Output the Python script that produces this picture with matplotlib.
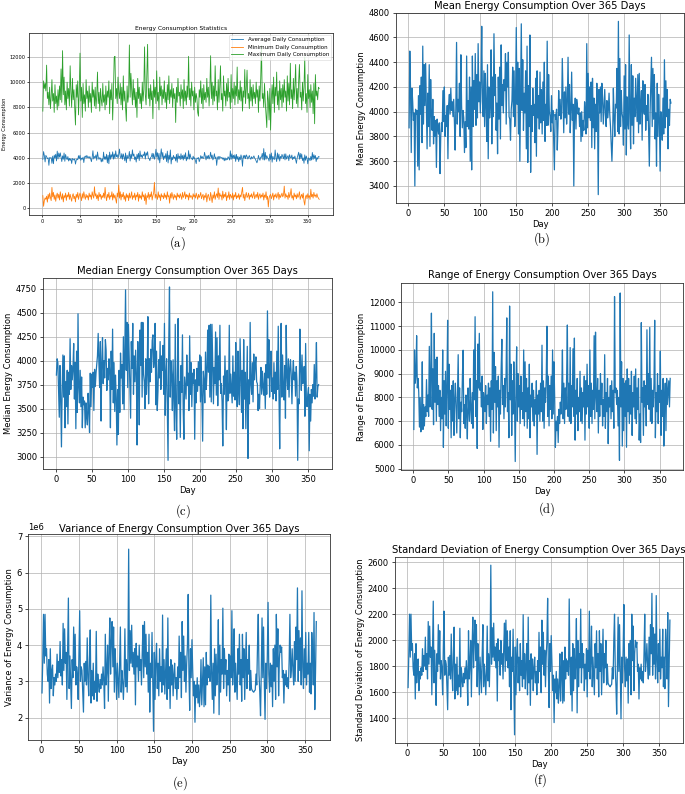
import numpy as np
import matplotlib
matplotlib.use("Agg")
from matplotlib import pyplot as plt
from matplotlib.ticker import MultipleLocator

plt.rcParams['mathtext.fontset'] = 'cm'

days = np.arange(1, 366)

# daily mean (also the "Average Daily Consumption" line of panel a)
mean_daily = [
    3870, 4490, 4180, 3670, 4190, 4080, 3930, 3990, 3400, 4020, 3980, 4010, 3560, 4130, 3530, 4210, 3980, 4280, 3750, 4530,
    3900, 4380, 4050, 4390, 4040, 3700, 4150, 3880, 4380, 3720, 4260, 3990, 3850, 4100, 3740, 3960, 3800, 3930, 3550, 3940,
    3870, 3820, 3910, 3500, 3800, 3910, 3840, 4170, 3920, 4200, 3800, 3970, 3880, 4050, 3620, 4060, 4140, 3980, 4190, 4010,
    4080, 3960, 4100, 3920, 3690, 4030, 4560, 3900, 4100, 4000, 4230, 3800, 4460, 4050, 3870, 4010, 3950, 3670, 3920, 3710,
    4450, 3880, 4090, 3860, 4280, 3600, 4200, 3530, 4450, 3880, 4250, 4020, 4470, 3890, 4300, 3950, 4550, 4080, 4240, 3990,
    4250, 4690, 4080, 3960, 4330, 3880, 4310, 4060, 3760, 4380, 3620, 4200, 3950, 4050, 4500, 3740, 4280, 3960, 4630, 4130,
    4300, 3850, 4070, 3660, 4280, 3940, 4360, 3780, 4540, 4050, 4220, 3990, 4260, 4170, 4470, 3900, 4400, 4200, 4480, 3960,
    3940, 3770, 4020, 4090, 4360, 3960, 4330, 3880, 4100, 4680, 4060, 4400, 3820, 4350, 3600, 4190, 4710, 4010, 4420, 3850,
    4150, 3990, 4330, 3700, 4530, 3590, 4210, 3880, 4620, 3510, 4050, 3840, 4190, 3970, 4060, 3750, 4270, 3640, 4330, 3950,
    4130, 3860, 4320, 3910, 4180, 3820, 4240, 3930, 4400, 3760, 4060, 3890, 4570, 3890, 4300, 4000, 3960, 3840, 4130, 3910,
    4010, 3760, 3530, 3980, 3940, 4020, 3690, 3880, 4170, 3970, 4100, 3940, 3990, 4430, 4130, 3830, 4160, 3950, 4200, 3900,
    4070, 4440, 3980, 4220, 3830, 4010, 4320, 3930, 4060, 3400, 3990, 4110, 3860, 4100, 4050, 3980, 4030, 3880, 3990, 3760,
    4000, 3800, 3930, 3850, 4080, 3980, 3820, 4550, 3870, 4310, 3950, 4200, 3930, 4240, 3710, 4270, 3870, 4110, 3700, 4060,
    3840, 4230, 3980, 3330, 4180, 3990, 4200, 3920, 4230, 4110, 3900, 4050, 4180, 3980, 3880, 4090, 3950, 4010, 4150, 3980,
    3880, 3750, 3600, 3800, 4190, 3950, 3800, 4060, 4030, 4350, 3840, 4730, 3820, 4430, 3880, 4170, 3990, 3950, 3730, 4290,
    3860, 4380, 3650, 4120, 3920, 3860, 4620, 3990, 3700, 4380, 3890, 4290, 3740, 4110, 3960, 4270, 4100, 3920, 4300, 3830,
    4310, 3900, 4050, 4170, 3770, 4250, 4030, 3980, 4220, 3850, 4050, 3930, 4140, 3860, 3560, 3990, 4200, 4440, 3880, 4350,
    3940, 4300, 3780, 3990, 3560, 4230, 3800, 4140, 3940, 3520, 4000, 3930, 3770, 4110, 3820, 4420, 3870, 4250, 3960, 4180,
    3700, 4020, 3890, 4100, 4070,
]

min_daily = [
    1000, 150, 600, 820, 700, 950, 480, 1100, 750, 1200, 850, 600, 1650, 900, 1250, 700, 1050, 550, 980, 1200,
    800, 1100, 650, 1300, 920, 700, 1150, 500, 1000, 850, 1200, 620, 1050, 900, 1250, 700, 1100, 800, 550, 1000,
    1150, 750, 950, 500, 1100, 850, 1250, 700, 1000, 1200, 900, 600, 1150, 800, 1300, 950, 700, 1100, 850, 1000,
    650, 1200, 900, 1050, 700, 1300, 1000, 800, 1700, 950, 1150, 750, 1050, 600, 1250, 900, 1100, 700, 1000, 850,
    1200, 800, 1650, 950, 600, 1100, 850, 1250, 700, 1000, 900, 1300, 650, 1150, 800, 1050, 700, 400, 1200, 900,
    1850, 800, 1300, 650, 1100, 900, 1250, 700, 1000, 550, 1150, 850, 1050, 600, 1200, 800, 950, 1300, 700, 1000,
    850, 1200, 650, 1050, 900, 1250, 550, 1100, 800, 1000, 700, 1300, 900, 1050, 600, 1150, 300, 1000, 850, 1250,
    700, 1100, 900, 1300, 650, 1000, 1200, 2050, 800, 1100, 950, 700, 1300, 850, 1050, 600, 1150, 900, 1000, 750,
    1200, 850, 1050, 700, 1300, 900, 1000, 400, 1150, 800, 1250, 950, 700, 1100, 850, 1000, 650, 1200, 900, 1050,
    800, 1150, 950, 700, 1250, 850, 1000, 1300, 750, 1100, 900, 1050, 650, 1200, 850, 1000, 950, 700, 1150, 900,
    1050, 800, 1200, 950, 700, 1100, 850, 1000, 1250, 750, 950, 1100, 650, 1000, 850, 1200, 500, 950, 1100, 800,
    600, 1250, 900, 450, 1050, 800, 1300, 700, 1000, 1150, 850, 1600, 700, 1200, 950, 1050, 650, 1350, 800, 1100,
    900, 1250, 600, 1000, 850, 1300, 700, 1100, 950, 800, 1200, 650, 1050, 900, 1250, 750, 1000, 850, 1150, 700,
    1050, 900, 1300, 1650, 800, 1100, 600, 1000, 1250, 850, 950, 1200, 700, 1050, 900, 1150, 800, 1000, 1300, 750,
    950, 1100, 850, 1250, 700, 1000, 1150, 800, 1050, 900, 1200, 650, 1050, 850, 1300, 700, 950, 100, 800, 1000,
    1100, 750, 950, 1200, 650, 1050, 900, 1150, 800, 1000, 1250, 700, 1100, 850, 1000, 1200, 900, 1050, 1750, 800,
    1150, 900, 1000, 700, 1250, 850, 1100, 1550, 800, 1000, 650, 1200, 900, 1050, 750, 1150, 850, 1000, 1300, 700,
    950, 1100, 800, 1200, 550, 250, 900, 1050, 750, 1150, 850, 1000, 700, 1500, 900, 1100, 800, 1250, 950, 1050,
    850, 1150, 900, 800, 700,
]

max_daily = [
    7700, 10100, 9500, 9900, 9300, 11350, 8700, 9200, 8200, 9600, 7900, 8800, 10200, 8500, 9100, 7600, 9800, 8300, 8900, 7800,
    9400, 8100, 9700, 8600, 11050, 8400, 12500, 9000, 10400, 8200, 9300, 7800, 10000, 8700, 9500, 8100, 11300, 9200, 8000, 10300,
    8600, 9400, 7900, 6600, 9800, 8800, 10100, 7400, 9200, 12300, 8500, 9600, 7200, 9900, 8300, 9000, 7700, 10200, 8700, 9300,
    8000, 9700, 8400, 9100, 7600, 10000, 8800, 9400, 8100, 9600, 7900, 8900, 10800, 8300, 9200, 7700, 9500, 8600, 8100, 9900,
    8400, 9000, 7800, 9700, 8200, 9300, 8800, 10100, 7500, 9400, 8600, 9900, 7000, 9100, 11950, 12050, 8700, 9500, 8300, 10400,
    9200, 8700, 9900, 8200, 9600, 7800, 10500, 8500, 9300, 8000, 6900, 9700, 8400, 9000, 12950, 8800, 10700, 9400, 8200, 10200,
    8600, 9500, 8000, 9200, 7200, 10300, 8700, 9600, 8300, 9100, 7900, 10000, 8500, 9400, 12800, 9000, 8200, 10600, 13000, 8700,
    9500, 8100, 9800, 8600, 9300, 7100, 10200, 8800, 9600, 8300, 10900, 8500, 9200, 7800, 10400, 8900, 9700, 8200, 9400, 8700,
    10100, 8400, 9200, 7900, 9800, 8600, 10500, 8300, 9400, 8800, 9900, 8000, 9500, 8700, 9100, 6800, 9600, 8400, 10300, 8900,
    9200, 8100, 9800, 8700, 9400, 7900, 10200, 8500, 9300, 8200, 9700, 8800, 12050, 8600, 9500, 8100, 10000, 8900, 9300, 7800,
    9600, 8400, 9100, 8700, 7600, 7300, 9400, 8800, 10100, 8300, 9500, 7900, 9800, 8600, 9200, 8400, 10300, 8800, 9600, 8100,
    9400, 12100, 8700, 10000, 8200, 9700, 8500, 11300, 8900, 9300, 7800, 10200, 8400, 9600, 11300, 8600, 9100, 7700, 10500, 8900,
    9300, 8100, 9900, 8500, 10300, 8800, 9200, 7900, 10600, 8400, 9500, 8700, 10000, 8200, 9700, 8900, 11200, 8300, 9400, 8600,
    10100, 8500, 9600, 7700, 9300, 8800, 11000, 8300, 9500, 10950, 8700, 9100, 7900, 10200, 8500, 9600, 8100, 9800, 8700, 9200,
    8300, 10000, 8800, 9400, 7600, 9700, 8500, 10300, 12900, 8700, 9100, 8000, 9900, 8400, 7400, 6400, 9300, 8600, 7000, 9500,
    6200, 8700, 9800, 8300, 10400, 7600, 9600, 8900, 10800, 8200, 9300, 7800, 10100, 8600, 9500, 8000, 9800, 8400, 10200, 8800,
    9300, 7700, 10500, 8500, 9900, 8200, 11500, 8700, 9400, 7900, 10300, 8600, 9700, 11400, 8300, 9500, 8000, 10100, 11400, 8800,
    9200, 7800, 10000, 8500, 9600, 12000, 8300, 9100, 7600, 10600, 8700, 9400, 8000, 9800, 8400, 9300, 7500, 9900, 6700, 10600,
    8900, 9300, 8600, 9600, 9500,
]

median_daily = [
    3850, 4020, 3980, 3700, 3410, 3950, 3600, 3100, 3720, 4060, 3620, 4050, 3300, 3780, 3520, 3900, 3340, 3880, 3650, 4230,
    3700, 3950, 3800, 3920, 4180, 3600, 3980, 3290, 4100, 3460, 4490, 3720, 3560, 3900, 3520, 3830, 3300, 3620, 3540, 3580,
    3300, 3560, 3420, 3330, 3660, 3480, 3250, 3870, 3520, 3860, 3720, 3880, 3480, 3910, 3730, 3870, 3960, 4050, 4285, 3970,
    3720, 4200, 3370, 3980, 4240, 3760, 4000, 3820, 4220, 4110, 3690, 3920, 3800, 4020, 3880, 3300, 4100, 3700, 4330, 3560,
    3980, 3470, 3850, 3620, 3120, 3700, 3230, 3900, 3460, 4080, 3820, 3960, 3550, 4250, 3490, 4110, 4740, 3900, 4400, 3720,
    4380, 4060, 3780, 3400, 4200, 3920, 4390, 3650, 4050, 3780, 4110, 3860, 3120, 4200, 3880, 3330, 4320, 3950, 4400, 3620,
    4400, 3860, 3780, 3500, 4020, 3650, 3870, 4460, 3550, 4020, 3780, 4120, 3880, 4210, 4270, 3930, 4020, 4390, 3540, 4100,
    3480, 3680, 4010, 3820, 4200, 3700, 4050, 3900, 4160, 3650, 4390, 3430, 3850, 4020, 3500, 2960, 4200, 4770, 3620, 4000,
    3850, 3480, 4010, 3600, 3270, 4380, 3520, 3180, 3900, 4440, 3550, 3780, 3200, 3950, 3670, 4270, 3500, 3180, 3830, 3710,
    3600, 4060, 3740, 3870, 3480, 4260, 3650, 3980, 3520, 3870, 3760, 3910, 3180, 3800, 3560, 3920, 3680, 3990, 3740, 4060,
    3570, 4040, 3620, 3160, 3890, 3780, 3560, 4090, 3700, 3860, 4320, 3880, 4370, 3620, 4380, 3570, 4380, 3960, 3550, 3930,
    3760, 4300, 3640, 4240, 3530, 4050, 3800, 4370, 3660, 3760, 3570, 3110, 3840, 3650, 4050, 3720, 3280, 3900, 3580, 3620,
    4370, 3660, 3860, 3700, 3560, 4050, 3630, 3880, 3590, 4190, 3760, 3520, 4100, 3680, 3540, 4230, 3850, 3460, 3900, 3290,
    4220, 3600, 3880, 3290, 3740, 4150, 2980, 3800, 3550, 4400, 3750, 3650, 3980, 3570, 4070, 3800, 3950, 4040, 3780, 3760,
    3480, 3650, 3500, 3760, 3930, 3650, 3890, 3720, 3640, 3870, 3500, 3960, 3650, 4520, 3820, 4220, 3620, 3910, 4100, 3680,
    3820, 3600, 3980, 3660, 3880, 3580, 4100, 3700, 4360, 3640, 3080, 3860, 4390, 3620, 4060, 3700, 3590, 3950, 3400, 4370,
    3850, 3700, 4020, 3620, 3920, 4010, 3850, 3550, 3870, 4000, 3800, 3880, 3630, 3940, 3780, 2960, 3600, 3550, 4330, 3930,
    3690, 4060, 3760, 3800, 3940, 3420, 4180, 3600, 3520, 3650, 3720, 3060, 3650, 3370, 3700, 3560, 3750, 3630, 3960, 3600,
    3850, 4190, 3620, 3730, 3750,
]

range_daily = [
    6650, 10000, 8600, 8900, 10600, 8400, 8800, 8200, 6750, 8000, 6550, 7300, 9500, 6650, 7700, 6800, 7600, 7200, 8750, 7400,
    8100, 7200, 10150, 7600, 8800, 11550, 7500, 9200, 6850, 10700, 7800, 9600, 7000, 9700, 7700, 8500, 7200, 8300, 6600, 8000,
    7100, 10000, 5900, 8700, 7300, 9100, 6800, 8400, 11250, 6700, 9400, 7500, 8300, 6300, 8500, 7000, 8700, 6400, 7900, 8600,
    7600, 6500, 8200, 9800, 7100, 8400, 6300, 7800, 7400, 8900, 9990, 6900, 7700, 6700, 8100, 7300, 6250, 8400, 7500, 7000,
    8800, 7500, 6900, 8200, 6700, 10000, 7900, 11400, 7200, 8700, 5850, 10250, 8400, 10700, 8300, 8600, 7600, 8900, 6650, 8200,
    7900, 7400, 8500, 6900, 8100, 7700, 8600, 7200, 8400, 6150, 8700, 7500, 12450, 6500, 9900, 7800, 9300, 6600, 8700, 7600,
    8900, 5900, 8300, 7300, 9200, 10450, 7700, 8500, 7100, 8800, 7600, 9000, 11350, 7400, 8200, 6300, 11850, 7900, 9400, 6400,
    8700, 7300, 9500, 7800, 5300, 8300, 10130, 7000, 9000, 7600, 8500, 6900, 8900, 7500, 8200, 7100, 10000, 6800, 9500, 7400,
    8800, 6700, 8400, 7100, 9400, 6300, 8100, 7600, 8600, 7000, 8300, 6800, 7900, 7300, 8700, 5600, 8100, 7300, 8300, 7000,
    8600, 7400, 10200, 7000, 8700, 6700, 8400, 7800, 8800, 11000, 7200, 8900, 6800, 8500, 7500, 8900, 7100, 10000, 7300, 9500,
    8000, 5900, 7000, 6600, 7200, 6100, 7500, 6900, 7800, 7300, 8200, 10000, 7100, 8600, 6900, 8400, 7500, 8900, 11050, 7200,
    8600, 7000, 10100, 6900, 8500, 7600, 10050, 7200, 10500, 6200, 8300, 7300, 8800, 6600, 8000, 7400, 9100, 7000, 8400, 6900,
    8200, 7600, 8900, 6200, 8700, 7300, 9400, 7600, 8500, 6700, 10000, 7200, 8600, 6900, 8300, 7500, 10600, 7100, 10750, 8000,
    7400, 8800, 6500, 8300, 7200, 9000, 7700, 8600, 6800, 7900, 7200, 9800, 6700, 8200, 7400, 8800, 6050, 8000, 7600, 8500,
    7100, 8700, 7400, 8300, 6700, 12250, 8200, 8400, 7700, 8300, 6800, 8000, 5350, 12400, 7600, 9500, 5950, 8800, 6600, 8600,
    7200, 8700, 5900, 9200, 7400, 8800, 6900, 8500, 7300, 9100, 6400, 8200, 7600, 8900, 7100, 9200, 6900, 8400, 7500, 8800,
    6200, 7300, 6100, 11150, 7800, 8400, 6400, 8700, 7600, 8500, 6800, 10850, 7700, 9000, 7500, 10950, 7000, 8800, 6900, 8300,
    7600, 8600, 11250, 6300, 8200, 7400, 9000, 6900, 8500, 7800, 9950, 6400, 8300, 7200, 8800, 5950, 7900, 8600, 6600, 8800,
    7700, 8200, 8700, 7600, 8800,
]

# variance in units of 1e6
variance_e6 = [
    2.68, 3.6, 4.85, 3.5, 4.85, 3.7, 3.9, 3.2, 3.0, 3.6, 2.4, 3.9, 2.8, 3.3, 3.45, 2.6, 3.1, 2.9, 3.2, 3.0,
    3.75, 3.1, 3.55, 3.25, 4.1, 3.15, 3.6, 2.9, 4.6, 3.3, 4.45, 3.5, 3.8, 2.5, 3.85, 5.3, 2.8, 3.7, 3.0, 2.25,
    3.6, 3.1, 4.5, 3.3, 4.3, 2.9, 3.4, 3.2, 2.5, 3.8, 4.95, 3.0, 3.4, 3.3, 2.7, 2.15, 3.5, 3.0, 3.55, 2.9,
    4.2, 3.1, 2.6, 3.6, 4.42, 2.4, 3.3, 2.6, 3.5, 2.5, 3.0, 2.7, 4.38, 2.45, 3.2, 2.9, 2.7, 3.05, 2.8, 3.2,
    2.9, 3.4, 3.0, 2.25, 4.3, 2.9, 3.3, 4.0, 2.45, 3.8, 4.75, 3.2, 4.1, 4.65, 3.4, 4.5, 2.7, 3.9, 3.3, 2.5,
    3.5, 3.0, 2.55, 3.6, 4.5, 2.7, 3.3, 3.0, 2.5, 3.1, 4.45, 2.85, 3.6, 2.7, 3.65, 6.65, 3.3, 4.4, 3.5, 4.55,
    3.4, 3.8, 3.2, 3.9, 2.35, 4.05, 3.4, 3.7, 3.0, 4.0, 3.3, 3.6, 2.9, 3.8, 4.55, 3.1, 4.65, 3.4, 4.3, 3.2,
    3.8, 2.7, 4.3, 2.15, 3.5, 3.1, 4.35, 2.9, 1.62, 3.8, 2.5, 3.6, 4.05, 2.8, 3.5, 2.6, 3.9, 3.0, 3.4, 2.7,
    4.83, 2.9, 3.6, 2.65, 3.3, 3.9, 2.5, 4.75, 2.8, 3.4, 2.25, 3.6, 2.9, 3.45, 2.6, 3.2, 3.5, 2.8, 3.1, 2.5,
    3.4, 2.8, 4.25, 3.1, 3.8, 2.55, 4.65, 3.3, 4.25, 3.0, 3.7, 2.7, 3.5, 4.0, 5.4, 3.2, 2.2, 3.9, 3.1, 4.15,
    3.3, 2.6, 3.0, 1.87, 2.9, 2.55, 3.1, 2.4, 2.9, 2.3, 2.7, 3.6, 2.35, 3.05, 3.65, 2.3, 3.4, 2.35, 3.8, 2.9,
    3.45, 3.1, 3.4, 3.0, 5.38, 3.3, 2.5, 3.5, 2.12, 3.9, 2.6, 3.75, 2.9, 3.3, 4.7, 2.08, 4.0, 2.7, 3.6, 3.2,
    5.02, 2.8, 3.9, 3.2, 3.6, 2.6, 3.3, 2.9, 3.75, 2.45, 3.7, 3.1, 4.95, 2.9, 3.4, 4.45, 2.7, 3.5, 3.0, 2.5,
    3.9, 3.2, 4.3, 2.9, 3.6, 2.45, 4.3, 3.1, 3.9, 2.5, 3.4, 4.35, 2.8, 3.6, 3.2, 4.0, 2.75, 3.3, 2.8, 2.75,
    2.72, 2.7, 2.74, 2.76, 3.2, 2.9, 4.0, 4.85, 3.2, 2.7, 2.05, 3.3, 4.75, 3.1, 4.5, 3.0, 1.95, 3.5, 2.8, 3.7,
    5.18, 3.2, 2.7, 3.5, 2.85, 3.45, 2.3, 3.9, 3.0, 4.0, 2.5, 4.85, 3.4, 4.45, 2.6, 3.6, 4.0, 3.8, 3.95, 3.1,
    3.3, 2.4, 3.2, 2.9, 3.3, 2.85, 3.1, 2.8, 3.6, 4.85, 3.1, 3.4, 3.9, 3.3, 2.9, 4.1, 3.0, 4.5, 3.6, 5.58,
    3.0, 4.4, 3.3, 4.2, 2.9, 5.5, 3.4, 2.8, 3.9, 3.1, 4.35, 2.9, 3.5, 3.2, 4.35, 2.7, 3.5, 2.65, 4.35, 3.8,
    2.9, 4.9, 2.22, 3.25, 4.65,
]

std_daily = [
    1637, 1897, 2202, 1871, 2202, 1924, 1975, 1789, 1732, 1897, 1549, 1975, 1673, 1817, 1857, 1612, 1761, 1703, 1789, 1732,
    1936, 1761, 1884, 1803, 2025, 1775, 1897, 1703, 2145, 1817, 2110, 1871, 1949, 1581, 1962, 2302, 1673, 1924, 1732, 1500,
    1897, 1761, 2121, 1817, 2074, 1703, 1844, 1789, 1581, 1949, 2225, 1732, 1844, 1817, 1643, 1466, 1871, 1732, 1884, 1703,
    2049, 1761, 1612, 1897, 2102, 1549, 1817, 1612, 1871, 1581, 1732, 1643, 2093, 1565, 1789, 1703, 1643, 1746, 1673, 1789,
    1703, 1844, 1732, 1500, 2074, 1703, 1817, 2000, 1565, 1949, 2179, 1789, 2025, 2156, 1844, 2121, 1643, 1975, 1817, 1581,
    1871, 1732, 1597, 1897, 2121, 1643, 1817, 1732, 1581, 1761, 2110, 1688, 1897, 1643, 1910, 2579, 1817, 2098, 1871, 2133,
    1844, 1949, 1789, 1975, 1533, 2012, 1844, 1924, 1732, 2000, 1817, 1897, 1703, 1949, 2133, 1761, 2156, 1844, 2074, 1789,
    1949, 1643, 2074, 1466, 1871, 1761, 2086, 1703, 1273, 1949, 1581, 1897, 2012, 1673, 1871, 1612, 1975, 1732, 1844, 1643,
    2198, 1703, 1897, 1628, 1817, 1975, 1581, 2179, 1673, 1844, 1500, 1897, 1703, 1857, 1612, 1789, 1871, 1673, 1761, 1581,
    1844, 1673, 2062, 1761, 1949, 1597, 2156, 1817, 2062, 1732, 1924, 1643, 1871, 2000, 2324, 1789, 1483, 1975, 1761, 2037,
    1817, 1612, 1732, 1367, 1703, 1597, 1761, 1549, 1703, 1517, 1643, 1897, 1533, 1746, 1910, 1517, 1844, 1533, 1949, 1703,
    1857, 1761, 1844, 1732, 2319, 1817, 1581, 1871, 1456, 1975, 1612, 1936, 1703, 1817, 2168, 1442, 2000, 1643, 1897, 1789,
    2241, 1673, 1975, 1789, 1897, 1612, 1817, 1703, 1936, 1565, 1924, 1761, 2225, 1703, 1844, 2110, 1643, 1871, 1732, 1581,
    1975, 1789, 2074, 1703, 1897, 1565, 2074, 1761, 1975, 1581, 1844, 2086, 1673, 1897, 1789, 2000, 1658, 1817, 1673, 1658,
    1649, 1643, 1655, 1661, 1789, 1703, 2000, 2202, 1789, 1643, 1432, 1817, 2179, 1761, 2121, 1732, 1396, 1871, 1673, 1924,
    2276, 1789, 1643, 1871, 1688, 1857, 1517, 1975, 1732, 2000, 1581, 2202, 1844, 2110, 1612, 1897, 2000, 1949, 1987, 1761,
    1817, 1549, 1789, 1703, 1817, 1688, 1761, 1673, 1897, 2202, 1761, 1844, 1975, 1817, 1703, 2025, 1732, 2121, 1897, 2362,
    1732, 2098, 1817, 2049, 1703, 2345, 1844, 1673, 1975, 1761, 2086, 1703, 1871, 1789, 2086, 1643, 1871, 1628, 2086, 1949,
    1703, 2214, 1490, 1803, 2156,
]

W, H = 685, 794
fig = plt.figure(figsize=(W / 100, H / 100), dpi=100)


def add_box(l, t, r, b):
    return fig.add_axes([l / W, 1 - b / H, (r - l) / W, (b - t) / H])


def style(ax, fs, tl):
    ax.grid(True, color='#b0b0b0', linewidth=0.5)
    ax.tick_params(labelsize=fs, length=tl, width=0.5, pad=tl)
    for s in ax.spines.values():
        s.set_linewidth(0.6)
        s.set_color('#333333')


blue = '#1f77b4'

# (a) summary of average / min / max
ax = add_box(29, 33, 333, 215)
ax.plot(days, mean_daily, color=blue, lw=0.6, label='Average Daily Consumption')
ax.plot(days, min_daily, color='#ff7f0e', lw=0.6, label='Minimum Daily Consumption')
ax.plot(days, max_daily, color='#2ca02c', lw=0.6, label='Maximum Daily Consumption')
ax.set_ylim(-540, 13900)
ax.set_title('Energy Consumption Statistics', fontsize=4.3, pad=2)
ax.set_xlabel('Day', fontsize=3.6, labelpad=1.5)
ax.set_ylabel('Energy Consumption', fontsize=3.6, labelpad=1.5)
style(ax, 3.6, 1.3)
leg = ax.legend(fontsize=4, loc='upper right', frameon=True, handlelength=2.2, borderaxespad=0.3)
leg.get_frame().set_linewidth(0.4)

panels = [
    ((396, 12.7, 684, 203.3), mean_daily, 'Mean Energy Consumption Over 365 Days', 'Mean Energy Consumption', 200, 2.5),
    ((43.3, 278.3, 331.7, 469), median_daily, 'Median Energy Consumption Over 365 Days', 'Median Energy Consumption', 250, 3.2),
    ((401, 283.3, 683, 470), range_daily, 'Range of Energy Consumption Over 365 Days', 'Range of Energy Consumption', 1000, 4),
    ((28.3, 534.3, 330, 740), np.array(variance_e6) * 1e6, 'Variance of Energy Consumption Over 365 Days', 'Variance of Energy Consumption', 1e6, 0.5),
    ((395, 556.7, 683, 743.3), std_daily, 'Standard Deviation of Energy Consumption Over 365 Days', 'Standard Deviation of Energy Consumption', 200, 3),
]

for box, vals, title, ylab, step, pad in panels:
    ax = add_box(*box)
    ax.plot(days, vals, color=blue, lw=0.9)
    ax.set_title(title, fontsize=7.2, pad=pad)
    ax.set_xlabel('Day', fontsize=6, labelpad=1.5)
    ax.set_ylabel(ylab, fontsize=6, labelpad=2)
    ax.yaxis.set_major_locator(MultipleLocator(step))
    ax.xaxis.set_major_locator(MultipleLocator(50))
    ax.yaxis.get_offset_text().set_fontsize(6)
    style(ax, 6, 2.2)
    if step == 1e6:
        ax.set_ylim(1.38e6, 7.06e6)

# sub-figure captions
captions = [('(a)', 177, 243), ('(b)', 542, 239), ('(c)', 183, 511),
            ('(d)', 547, 509), ('(e)', 180, 783), ('(f)', 540, 780)]
for txt, x, y in captions:
    fig.text(x / W, 1 - y / H, r'$\mathrm{' + txt + '}$', fontsize=9, ha='center', va='center')

fig.savefig('out.png', dpi=100)
